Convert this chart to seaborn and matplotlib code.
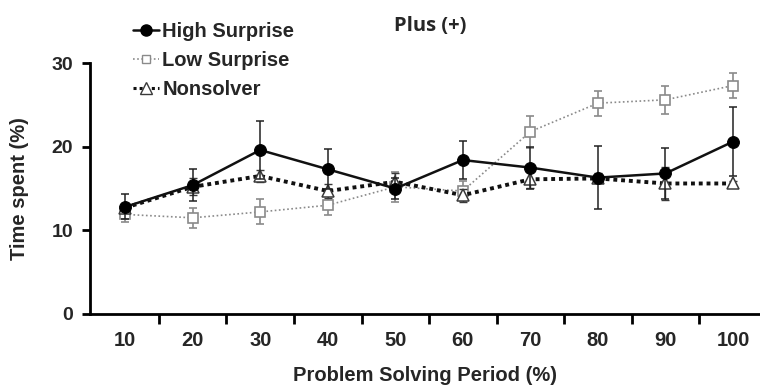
import numpy as np
import pandas as pd
import seaborn as sns
import matplotlib.pyplot as plt
from matplotlib.lines import Line2D

# ---- data ----
periods = ["10", "20", "30", "40", "50", "60", "70", "80", "90", "100"]
high_surprise = [12.8, 15.4, 19.6, 17.3, 15.0, 18.4, 17.5, 16.3, 16.8, 20.6]
high_err = [1.5, 1.9, 3.5, 2.4, 1.3, 2.3, 2.5, 3.8, 3.1, 4.1]
low_surprise = [11.9, 11.5, 12.2, 13.0, 15.2, 14.7, 21.8, 25.2, 25.6, 27.3]
low_err = [0.95, 1.2, 1.5, 1.2, 1.8, 1.2, 1.9, 1.5, 1.7, 1.45]
nonsolver = [12.7, 15.2, 16.5, 14.7, 15.8, 14.2, 16.1, 16.2, 15.6, 15.6]
non_err = [0.6, 1.0, 0.7, 0.8, 1.0, 0.8, 1.0, 0.6, 2.0, 0.3]
y_ticks = [0, 10, 20, 30]

sns.set_style("ticks")
plt.rcParams["font.family"] = ["Liberation Sans", "DejaVu Sans"]
plt.rcParams["font.weight"] = "bold"

fig = plt.figure(figsize=(7.6, 3.85), dpi=100)
ax = fig.add_axes([90 / 760, 1 - 314 / 385, 1 - 90 / 760, (314 - 63) / 385])

pos = np.arange(len(periods))
df = pd.DataFrame({"pos": pos, "high": high_surprise, "low": low_surprise, "non": nonsolver})

gray = "#8a8a8a"
dark = "#3a3a3a"

# Low surprise
ax.errorbar(pos, low_surprise, yerr=low_err, fmt="none", ecolor=gray, elinewidth=1.2,
            capsize=3, capthick=1.2, zorder=2)
sns.lineplot(data=df, x="pos", y="low", ax=ax, color=gray, linestyle=(0, (1, 1.5)), lw=1.2,
             marker="s", markersize=7, markerfacecolor="white", markeredgecolor=gray,
             markeredgewidth=1.2, zorder=3)

# Nonsolver
ax.errorbar(pos, nonsolver, yerr=non_err, fmt="none", ecolor=dark, elinewidth=1.0,
            capsize=3, capthick=1.0, zorder=4)
sns.lineplot(data=df, x="pos", y="non", ax=ax, color="#111111", linestyle=(0, (1, 1)), lw=2.8,
             marker="^", markersize=9, markerfacecolor="white", markeredgecolor=dark,
             markeredgewidth=1.1, zorder=5)

# High surprise
ax.errorbar(pos, high_surprise, yerr=high_err, fmt="none", ecolor="#222222", elinewidth=1.1,
            capsize=3, capthick=1.1, zorder=6)
sns.lineplot(data=df, x="pos", y="high", ax=ax, color="#111111", linestyle="-", lw=1.8,
             marker="o", markersize=8.5, markerfacecolor="black", markeredgecolor="black",
             zorder=7)

ax.set_xlim(-0.52, 9.4)
ax.set_ylim(0, 30)
ax.set_yticks(y_ticks)
ax.set_xticks(pos)
ax.set_xticklabels(periods)
ax.set_xticks(pos[:-1] + 0.5, minor=True)
ax.tick_params(axis="x", which="major", length=0, labelsize=14.5, pad=12)
ax.tick_params(axis="x", which="minor", length=7, width=2, direction="out", color="black")
ax.tick_params(axis="y", length=6, width=2, labelsize=14, pad=6, color="black")
for lab in ax.get_xticklabels() + ax.get_yticklabels():
    lab.set_fontweight("bold")

sns.despine(ax=ax)
ax.spines["left"].set_linewidth(2)
ax.spines["bottom"].set_linewidth(2)
ax.spines["left"].set_color("black")
ax.spines["bottom"].set_color("black")

ax.set_xlabel("Problem Solving Period (%)", fontsize=14.5, fontweight="bold", labelpad=12)
ax.set_ylabel("Time spent (%)", fontsize=14.5, fontweight="bold", labelpad=16)

fig.text(430 / 760, 1 - 26 / 385, "Plus (+)", ha="center", va="center",
         fontsize=14.5, fontweight="bold", family=["Open Sans", "DejaVu Sans"])

handles = [
    Line2D([], [], color="#111111", lw=1.8, marker="o", markersize=8,
           markerfacecolor="black", markeredgecolor="black"),
    Line2D([], [], color=gray, lw=1.2, linestyle=(0, (1, 1.5)), marker="s", markersize=6,
           markerfacecolor="white", markeredgecolor=gray),
    Line2D([], [], color="#111111", lw=2.2, linestyle=(0, (1, 1)), marker="^", markersize=8,
           markerfacecolor="white", markeredgecolor=dark),
]
leg = fig.legend(handles, ["High Surprise", "Low Surprise", "Nonsolver"],
                 loc="upper left", bbox_to_anchor=(133 / 760, 1 - 22 / 385),
                 frameon=False, fontsize=14.5, handlelength=1.3, handletextpad=0.15,
                 labelspacing=0.5, borderpad=0, borderaxespad=0)
for t in leg.get_texts():
    t.set_fontweight("bold")

fig.savefig("out.png", dpi=100)
